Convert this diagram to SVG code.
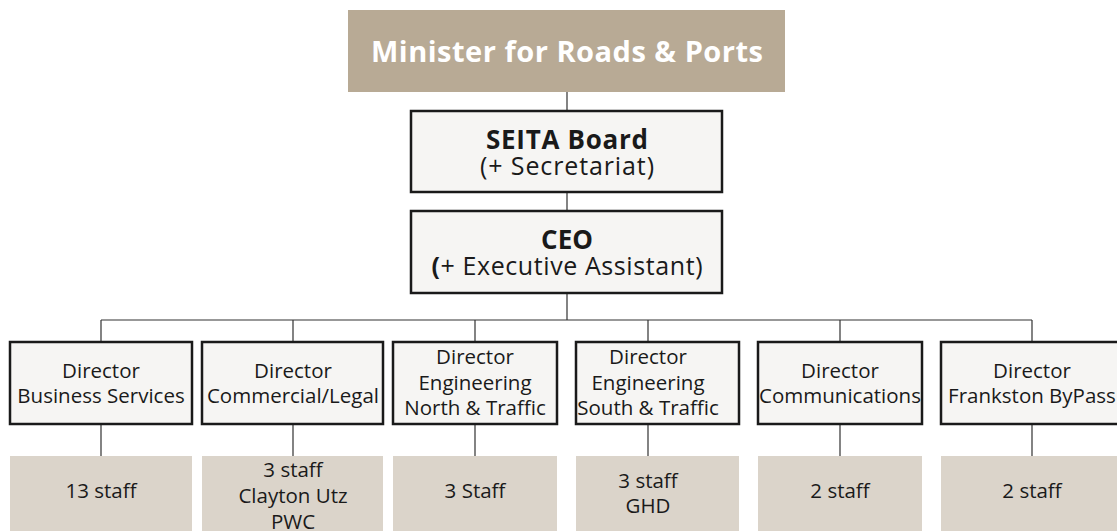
<svg xmlns="http://www.w3.org/2000/svg" width="1117" height="531" viewBox="0 0 1117 531">
<style>
.t{font-family:"Open Sans","Liberation Sans",sans-serif;fill:#1a1a1a;text-anchor:middle;font-size:20.5px}
.b{font-weight:bold}
.box{fill:#f6f5f3;stroke:#1a1a1a;stroke-width:2.5}
.staff{fill:#dbd4ca}
.c{stroke:#333;stroke-width:1.2;fill:none}
</style>
<rect width="1117" height="531" fill="#fff"/>
<g id="connectors">
<path class="c" d="M567 92V111M567 192V211M567 293V320M101 320H1032M101 320V342M293 320V342M475 320V342M648 320V342M840 320V342M1032 320V342M101 424V456M293 424V456M475 424V456M648 424V456M840 424V456M1032 424V456"/>
</g>
<g id="minister">
<rect x="348" y="10" width="437" height="82" fill="#b8aa95"/>
<text class="t b" x="567" y="62" style="fill:#fff;font-size:29px" textLength="392" lengthAdjust="spacing">Minister for Roads &amp; Ports</text>
</g>
<g id="board">
<rect class="box" x="411" y="111" width="311" height="81"/>
<text class="t b" x="567" y="149" style="font-size:26px" textLength="162" lengthAdjust="spacing">SEITA Board</text>
<text class="t" x="567" y="175" style="font-size:25px" textLength="174" lengthAdjust="spacing">(+ Secretariat)</text>
</g>
<g id="ceo">
<rect class="box" x="411" y="211" width="311" height="82"/>
<text class="t b" x="567" y="249" style="font-size:26px">CEO</text>
<text class="t" x="567" y="275" style="font-size:25px" textLength="271" lengthAdjust="spacing"><tspan class="b">(</tspan>+ Executive Assistant)</text>
</g>
<g id="d1">
<rect class="box" x="10" y="342" width="182" height="82"/>
<text class="t" x="101" y="378">Director</text>
<text class="t" x="101" y="403">Business Services</text>
</g>
<g id="d2">
<rect class="box" x="202" y="342" width="181" height="82"/>
<text class="t" x="293" y="378">Director</text>
<text class="t" x="293" y="403">Commercial/Legal</text>
</g>
<g id="d3">
<rect class="box" x="393" y="342" width="164" height="82"/>
<text class="t" x="475" y="364">Director</text>
<text class="t" x="475" y="390">Engineering</text>
<text class="t" x="475" y="415">North &amp; Traffic</text>
</g>
<g id="d4">
<rect class="box" x="576" y="342" width="163" height="82"/>
<text class="t" x="648" y="364">Director</text>
<text class="t" x="648" y="390">Engineering</text>
<text class="t" x="648" y="415">South &amp; Traffic</text>
</g>
<g id="d5">
<rect class="box" x="758" y="342" width="164" height="82"/>
<text class="t" x="840" y="378">Director</text>
<text class="t" x="840" y="403">Communications</text>
</g>
<g id="d6">
<rect class="box" x="941" y="342" width="182" height="82"/>
<text class="t" x="1032" y="378">Director</text>
<text class="t" x="1032" y="403">Frankston ByPass</text>
</g>
<g id="s1">
<rect class="staff" x="10" y="456" width="182" height="80"/>
<text class="t" x="101" y="498">13 staff</text>
</g>
<g id="s2">
<rect class="staff" x="202" y="456" width="181" height="80"/>
<text class="t" x="293" y="477">3 staff</text>
<text class="t" x="293" y="503">Clayton Utz</text>
<text class="t" x="293" y="529">PWC</text>
</g>
<g id="s3">
<rect class="staff" x="393" y="456" width="164" height="80"/>
<text class="t" x="475" y="498">3 Staff</text>
</g>
<g id="s4">
<rect class="staff" x="576" y="456" width="163" height="80"/>
<text class="t" x="648" y="488">3 staff</text>
<text class="t" x="648" y="513">GHD</text>
</g>
<g id="s5">
<rect class="staff" x="758" y="456" width="164" height="80"/>
<text class="t" x="840" y="498">2 staff</text>
</g>
<g id="s6">
<rect class="staff" x="941" y="456" width="182" height="80"/>
<text class="t" x="1032" y="498">2 staff</text>
</g>
</svg>
